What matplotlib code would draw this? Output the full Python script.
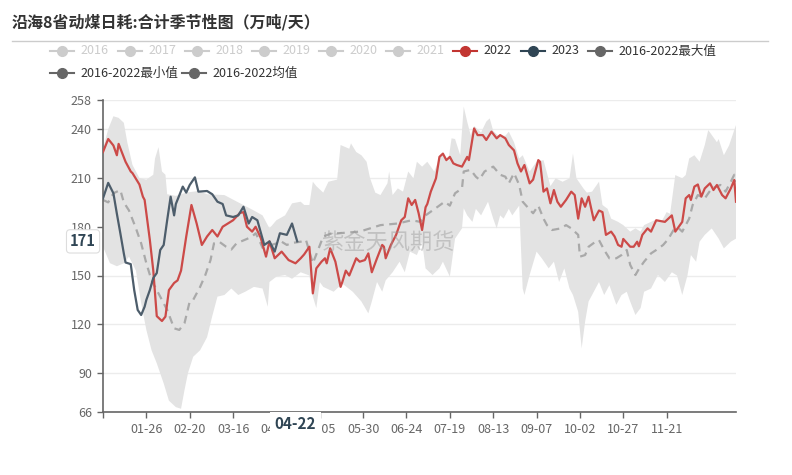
import datetime as dt

import matplotlib

matplotlib.use("Agg")
import matplotlib.pyplot as plt
from matplotlib.lines import Line2D

plt.rcParams["font.family"] = ["Noto Sans CJK SC", "DejaVu Sans"]

title = "沿海8省动煤日耗:合计季节性图（万吨/天）"
watermark = "紫金天风期货"

# x = day index in a leap-year calendar (0 = 01-01), values in 万吨/天
y2022_idx = [0, 3, 6, 8, 9, 13, 16, 17, 21, 23, 24, 27, 29, 31, 34, 36, 38, 41, 43, 45,
             48, 51, 54, 57, 60, 63, 66, 69, 75, 79, 81, 83, 86, 88, 91, 94, 96, 99, 103, 107,
             111, 114, 116, 119, 121, 123, 126, 128, 129, 131, 134, 137, 138, 140, 142, 146, 148, 151, 153, 155,
             158, 161, 162, 163, 166, 169, 172, 174, 176, 178, 180, 182, 184, 186, 187, 189, 192, 194, 196, 198,
             200, 202, 204, 207, 210, 211, 214, 216, 219, 221, 224, 227, 229, 232, 234, 237, 239, 241, 243, 246,
             248, 251, 252, 254, 256, 258, 260, 262, 264, 267, 270, 272, 274, 276, 278, 280, 283, 286, 288, 290,
             293, 295, 297, 299, 300, 304, 306, 308, 309, 311, 314, 316, 319, 324, 328, 330, 334, 336, 338, 339,
             341, 343, 345, 347, 350, 352, 354, 357, 359, 362, 364, 365]
y2022_val = [226, 234, 230, 224, 231, 220, 214, 213, 206, 198.5, 196.5, 172, 153, 125, 122, 124.7, 141, 145.4, 147, 153,
             174, 193.4, 182, 168.8, 174, 178, 174, 180, 184, 188.5, 189, 180, 177, 180, 173, 161.6, 171, 160.6, 164.7, 159.5,
             157.5, 160.6, 163, 167.7, 139, 154.4, 158.5, 160.6, 157.5, 166.7, 158.5, 143, 146, 153, 150, 160.6, 158.5, 159.5, 163.6, 152,
             160.6, 168.8, 167.7, 160.6, 168.8, 175, 184, 186, 197.5, 193.4, 196.5, 188.3, 178, 192, 194, 201.6, 209.8, 223, 225, 221,
             223, 219, 218, 217, 223, 221, 240.5, 236.4, 236.4, 233.4, 238.5, 234.4, 236.4, 234.4, 230.3, 227, 219, 214, 218, 206.7,
             209, 221, 220, 201.6, 203.6, 194.4, 202.6, 195.4, 192.3, 196.5, 201.6, 199.5, 185, 197.5, 192.3, 198.5, 184, 190, 189, 175,
             177, 174, 168.8, 167.7, 172.5, 167.7, 167.7, 170.8, 168, 175, 179, 177, 184, 183, 187, 177, 183, 197.5, 199.5, 196.5,
             204.7, 206, 198.5, 203.6, 206.7, 202.6, 205.7, 199.5, 197.5, 203.6, 208.8, 195.4]

y2023_idx = [0, 3, 6, 8, 10, 12, 13, 16, 18, 20, 22, 24, 25, 27, 29, 31, 33, 35, 37, 39,
             41, 42, 46, 48, 50, 53, 55, 60, 63, 66, 69, 71, 75, 78, 81, 84, 86, 89, 93, 96,
             99, 102, 106, 109, 112]
y2023_val = [197.5, 207, 200.6, 188, 176, 163.6, 158, 157, 141, 128.8, 125.7, 130.8, 135, 141, 148.5, 151.5, 165.7, 168.8, 184, 198.5,
             187, 194, 204.7, 201, 205.7, 210.4, 201.6, 202, 200, 195.4, 194, 187, 186, 187, 192.3, 182, 186, 184, 168.8, 171,
             164.7, 176, 175, 182, 171]

mean_idx = [0, 3, 6, 10, 12, 15, 19, 22, 25, 28, 32, 37, 41, 44, 47, 50, 52, 56, 59, 62,
            64, 67, 71, 74, 77, 83, 86, 88, 90, 92, 103, 106, 109, 114, 117, 121, 127, 132, 136, 148,
            160, 170, 178, 183, 186, 193, 197, 200, 203, 207, 208, 212, 215, 217, 220, 225, 229, 232, 234, 237,
            240, 242, 244, 248, 251, 254, 256, 259, 264, 267, 270, 274, 275, 278, 280, 284, 286, 289, 292, 296,
            299, 302, 304, 307, 309, 312, 316, 319, 323, 326, 329, 332, 334, 338, 340, 343, 347, 351, 356, 359,
            362, 364, 365]
mean_val = [196.5, 195, 200.6, 202.6, 195, 190, 179, 169.8, 157.5, 147, 139, 128.8, 117.5, 116.5, 120.7, 134, 135, 143, 150.3, 159.5,
            169.8, 170.8, 167.7, 166, 169.8, 172.5, 174, 176, 172, 167, 170.8, 168.8, 170, 170.8, 172, 157.5, 174, 176, 176, 177,
            181, 182, 184, 183, 187, 192.3, 195.4, 193, 200.6, 203.6, 214, 215, 210.8, 209, 214, 217, 212, 210.8, 206.7, 213,
            205.7, 195.4, 193, 188.3, 193, 185, 181, 178, 179, 181, 179, 175, 161.6, 162.6, 167.7, 170.8, 171.8, 165.7, 160.6, 160.6,
            162.6, 165.7, 156.5, 150.3, 154, 158.5, 163.6, 165.7, 168.8, 172.5, 178, 179, 177, 185, 193.4, 199.5, 197.5, 203.6, 205.7, 201.6,
            207.7, 212, 207.7]

max_idx = [0, 3, 6, 9, 12, 14, 17, 21, 25, 29, 30, 32, 34, 36, 37, 42, 48, 55, 60, 70,
           78, 87, 92, 96, 100, 105, 109, 114, 116, 119, 121, 123, 127, 130, 135, 137, 142, 143, 146, 149,
           152, 154, 157, 160, 164, 165, 167, 170, 173, 176, 179, 181, 184, 187, 191, 195, 199, 201, 203, 206,
           208, 210, 212, 214, 218, 221, 223, 225, 228, 232, 234, 237, 240, 242, 246, 250, 254, 258, 261, 265,
           269, 271, 273, 277, 279, 282, 286, 288, 291, 293, 297, 300, 304, 307, 310, 312, 318, 322, 325, 327,
           330, 334, 336, 338, 341, 344, 347, 349, 354, 355, 358, 361, 364, 365]
max_val = [228, 240, 248, 247, 244, 232, 218, 210, 209, 212, 222, 229, 214, 212, 200, 199, 201, 202, 200, 199.5,
           195, 190, 187, 179, 184, 187, 194.4, 195.4, 193.4, 193.4, 207.7, 205, 201, 207.7, 209, 230.3, 228, 231.3, 226, 224,
           220, 209.8, 201, 199.5, 206.7, 214, 199.5, 203.6, 201.6, 214, 209.8, 220, 217, 220, 214, 225, 220, 234.4, 234, 224,
           253.9, 244.7, 236.4, 242, 238, 244.7, 246.7, 239, 236, 236, 238.5, 232, 222, 224, 214, 220, 221, 205, 209.8, 207.7,
           209.8, 225, 209.8, 203.6, 201, 201.6, 207.7, 193.4, 191, 185, 183, 181, 177, 179, 177, 181, 184, 183, 189, 188,
           211.8, 209.8, 211.8, 222, 224, 220, 230.3, 239.5, 232, 234, 224, 230, 239.5, 242.6]

min_idx = [0, 4, 8, 12, 15, 19, 22, 25, 28, 31, 35, 38, 42, 45, 47, 49, 52, 56, 60, 63,
           66, 70, 74, 78, 82, 87, 92, 95, 96, 100, 105, 109, 114, 119, 121, 123, 125, 127, 133, 138,
           144, 149, 153, 155, 158, 161, 163, 167, 171, 174, 177, 181, 184, 186, 190, 194, 196, 200, 203, 207,
           208, 210, 213, 215, 218, 222, 225, 227, 229, 231, 234, 236, 240, 242, 243, 246, 250, 253, 257, 260,
           263, 266, 269, 271, 274, 276, 278, 280, 283, 286, 289, 292, 296, 299, 302, 304, 307, 310, 312, 316,
           320, 324, 328, 331, 334, 337, 339, 342, 344, 347, 351, 355, 358, 362, 365]
min_val = [167.7, 157.6, 155.7, 157.5, 161.6, 153, 133, 116.5, 104, 96, 83.6, 73, 69, 68, 79.5, 90, 100, 104, 112, 125,
           137, 138, 142, 138, 140, 143, 142, 130.8, 146, 149.3, 150.3, 148, 152, 150, 137, 130, 146, 143, 140, 145,
           140, 134, 126.7, 134, 146, 140, 147, 152, 158.5, 152, 164.7, 162.6, 170.8, 154.4, 150.3, 154.4, 158.5, 149.3, 172.7, 179,
           191.4, 187, 183, 191, 187, 195.4, 185, 179, 187, 185, 191, 187, 193, 142, 138, 150.3, 164.7, 160.6, 154.4, 158.5,
           146, 154.4, 142, 138, 127.7, 105.2, 121.6, 134, 140, 146, 138, 144, 132, 138, 140, 134, 125.7, 130, 140, 142,
           150.3, 146, 152, 150, 138, 150, 162.6, 158.5, 170.8, 175, 179, 172.7, 166.7, 170.8, 172.7]

y_ticks = [66, 90, 120, 150, 180, 210, 240, 258]

legend_names = ["2016", "2017", "2018", "2019", "2020", "2021", "2022", "2023",
                "2016-2022最大值", "2016-2022最小值", "2016-2022均值"]

RED = "#c23531"
NAVY = "#2f4554"
LEGEND_GREY = "#666666"
OFF = "#cccccc"
legend_colors = [OFF] * 6 + [RED, NAVY, LEGEND_GREY, LEGEND_GREY, LEGEND_GREY]
legend_text_colors = [OFF] * 6 + ["#333333"] * 5

W, H = 792, 475
fig = plt.figure(figsize=(W / 100, H / 100), dpi=100)


def px(x, y):
    return x / W, 1 - y / H


# title + rule under it
fig.text(*px(12, 22), title, fontsize=11.5, fontweight="bold", color="#333333", va="center")
fig.add_artist(Line2D([12 / W, 768 / W], [1 - 41 / H] * 2, color="#cccccc", lw=1))

# legend, drawn by hand to keep the two-row layout
legend_pos = [(50, 51), (118, 51), (185, 51), (252, 51), (319, 51), (386, 51), (453, 51),
              (521, 51), (588, 51), (50, 73), (182, 73)]
for name, col, tcol, (lx, ly) in zip(legend_names, legend_colors, legend_text_colors, legend_pos):
    fig.add_artist(Line2D([lx / W, (lx + 24) / W], [1 - ly / H] * 2, color=col, lw=1.5))
    fig.add_artist(Line2D([(lx + 12) / W], [1 - ly / H], color=col, marker="o",
                          markersize=7, lw=0))
    fig.text(*px(lx + 30, ly), name, fontsize=9, color=tcol, va="center")

ax = fig.add_axes([103 / W, 1 - 412 / H, (736 - 103) / W, (412 - 100) / H])

# max/min band as one polygon: along the max edge, back along the min edge
band_x = max_idx + min_idx[::-1]
band_y = max_val + min_val[::-1]
ax.fill(band_x, band_y, color="#e3e3e3", lw=0, zorder=1)
ax.plot(mean_idx, mean_val, color="#a9a9a9", lw=1.6, dashes=(3.5, 2.5), zorder=2)
ax.plot(y2022_idx, y2022_val, color="#cc4a48", lw=1.6, zorder=3)
ax.plot(y2023_idx, y2023_val, color="#4d5d6b", lw=1.6, zorder=4)

ax.set_xlim(0, 365)
ax.set_ylim(66, 258)
ax.set_yticks(y_ticks)
ax.grid(axis="y", color="#ececec", lw=1, zorder=0)
ax.set_axisbelow(True)

year_start = dt.date(2020, 1, 1)
x_ticks = list(range(0, 326, 25))
x_labels = [""] + [(year_start + dt.timedelta(days=i)).strftime("%m-%d") for i in x_ticks[1:]]
ax.set_xticks(x_ticks)
ax.set_xticklabels(x_labels)

for side in ["top", "right"]:
    ax.spines[side].set_visible(False)
for side in ["left", "bottom"]:
    ax.spines[side].set_color("#666666")
    ax.spines[side].set_linewidth(1.2)
ax.tick_params(colors="#666666", labelsize=9, length=4, width=1, pad=4)

# axis pointer labels
ax.text(-11.5, 171, "171", fontsize=10.5, fontweight="bold", color=NAVY, ha="center", va="center",
        clip_on=False, zorder=10,
        bbox=dict(boxstyle="round,pad=0.25", fc="white", ec="#dddddd", lw=0.8))
ax.text(111, 58.5, "04-22", fontsize=11, fontweight="bold", color=NAVY, ha="center", va="center",
        clip_on=False, zorder=10,
        bbox=dict(boxstyle="square,pad=0.3", fc="white", ec="none"))

# watermark
fig.text(*px(388, 243), watermark, fontsize=16, color="#999999", alpha=0.45,
         ha="center", va="center")

fig.savefig("out.png", dpi=100)
